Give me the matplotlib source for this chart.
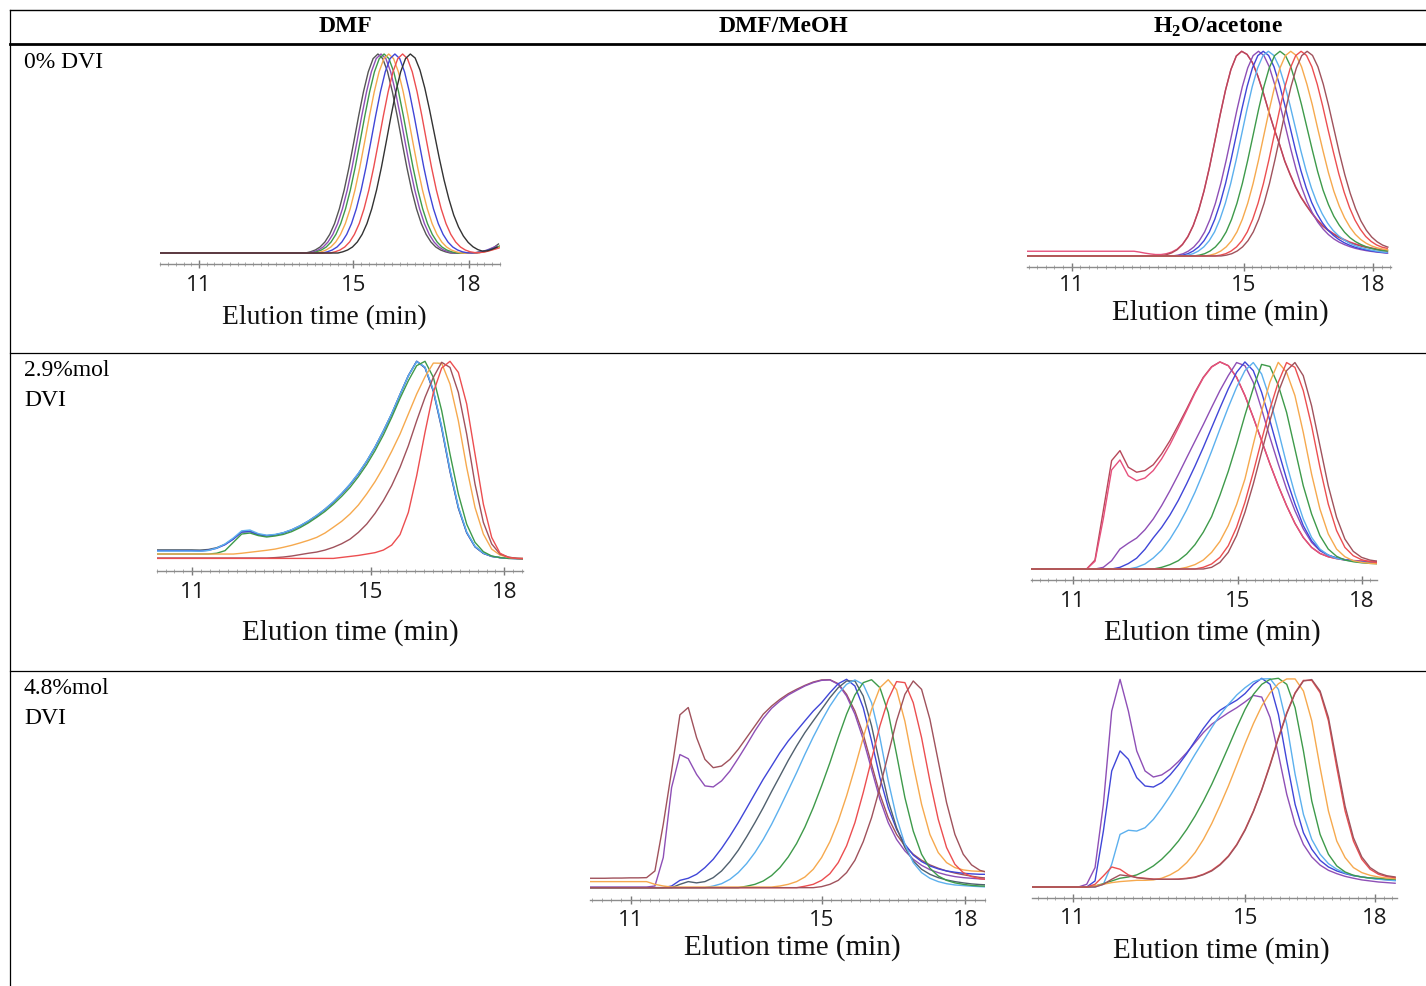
import numpy as np
import matplotlib
matplotlib.use("Agg")
import matplotlib.pyplot as plt
from matplotlib.lines import Line2D
from matplotlib.ticker import MultipleLocator

plt.rcParams["mathtext.fontset"] = "custom"
plt.rcParams["mathtext.rm"] = "Liberation Serif:bold"
plt.rcParams["mathtext.bf"] = "Liberation Serif:bold"

W, H = 1426, 987
SERIF = "Liberation Serif"
SANS = "Open Sans"

solvents = ["DMF", "DMF/MeOH", r"H$_2$O/acetone"]
row_labels = [["0% DVI"], ["2.9%mol", "DVI"], ["4.8%mol", "DVI"]]
tick_vals = [11, 15, 18]
xlabel = "Elution time (min)"

# colours
GRAY, BLACK, SLATE = "#555555", "#333333", "#50606e"
PURPLE, BLUE, LBLUE = "#8e4fb6", "#4046d8", "#5cb0ee"
GREEN, ORANGE, RED = "#3e9a4a", "#f6a94e", "#ec4e50"
BROWN, PINK, CRIM = "#a0525c", "#e6507c", "#b8475a"

# ---------------- row 1, DMF (0 % DVI): each trace = start time + values every 0.125 min
p1_dt = 0.125
p1_gray = [0.005, 0.011, 0.020, 0.035, 0.060, 0.098, 0.152, 0.226, 0.320, 0.433, 0.560, 0.690, 0.811, 0.911, 0.977, 1.0,
           0.977, 0.911, 0.811, 0.690, 0.560, 0.433, 0.320, 0.226, 0.152, 0.098, 0.060, 0.035, 0.020, 0.011, 0.005,
           0.004, 0.004, 0.004, 0.004, 0.005, 0.007, 0.012, 0.020, 0.032, 0.050]
p1_purple = [0.005, 0.011, 0.020, 0.035, 0.060, 0.098, 0.152, 0.226, 0.320, 0.433, 0.560, 0.690, 0.811, 0.911, 0.977, 1.0,
             0.977, 0.911, 0.811, 0.690, 0.560, 0.433, 0.320, 0.226, 0.152, 0.098, 0.060, 0.035, 0.020, 0.011, 0.005,
             0.004, 0.004, 0.004, 0.005, 0.008, 0.013, 0.020, 0.030, 0.040]
p1_green = [0.005, 0.011, 0.020, 0.035, 0.060, 0.098, 0.152, 0.226, 0.320, 0.433, 0.560, 0.690, 0.811, 0.911, 0.977, 1.0,
            0.977, 0.911, 0.811, 0.690, 0.560, 0.433, 0.320, 0.226, 0.152, 0.098, 0.060, 0.035, 0.020, 0.011, 0.005,
            0.004, 0.004, 0.004, 0.006, 0.010, 0.015, 0.022, 0.030, 0.040]
p1_orange = [0.005, 0.011, 0.020, 0.035, 0.060, 0.098, 0.152, 0.226, 0.320, 0.433, 0.560, 0.690, 0.811, 0.911, 0.977, 1.0,
             0.977, 0.911, 0.811, 0.690, 0.560, 0.433, 0.320, 0.226, 0.152, 0.098, 0.060, 0.035, 0.020, 0.011, 0.005,
             0.004, 0.004, 0.005, 0.008, 0.012, 0.018, 0.026, 0.034]
p1_blue = [0.005, 0.011, 0.020, 0.035, 0.060, 0.098, 0.152, 0.226, 0.320, 0.433, 0.560, 0.690, 0.811, 0.911, 0.977, 1.0,
           0.977, 0.911, 0.811, 0.690, 0.560, 0.433, 0.320, 0.226, 0.152, 0.098, 0.060, 0.035, 0.020, 0.011, 0.006,
           0.005, 0.007, 0.011, 0.017, 0.024, 0.032]
p1_red = [0.005, 0.011, 0.020, 0.035, 0.060, 0.098, 0.152, 0.226, 0.320, 0.433, 0.560, 0.690, 0.811, 0.911, 0.977, 1.0,
          0.977, 0.911, 0.811, 0.690, 0.560, 0.433, 0.320, 0.226, 0.152, 0.098, 0.060, 0.035, 0.020, 0.011, 0.007,
          0.007, 0.010, 0.016, 0.023, 0.030]
p1_black = [0.005, 0.011, 0.020, 0.035, 0.060, 0.098, 0.152, 0.226, 0.320, 0.433, 0.560, 0.690, 0.811, 0.911, 0.977, 1.0,
            0.98, 0.92, 0.83, 0.72, 0.60, 0.48, 0.37, 0.275, 0.195, 0.135, 0.09, 0.058, 0.036, 0.022, 0.014,
            0.016, 0.024, 0.034]
p1_traces = [(GRAY, 13.765, p1_gray), (PURPLE, 13.845, p1_purple), (GREEN, 13.925, p1_green),
             (ORANGE, 14.045, p1_orange), (BLUE, 14.205, p1_blue), (RED, 14.405, p1_red),
             (BLACK, 14.605, p1_black)]

# ---------------- row 1, H2O/acetone (0 % DVI)
p2_dt = 0.125
p2_pink = [0.028, 0.024, 0.019, 0.015, 0.012,
           0.012, 0.016, 0.024, 0.038, 0.062, 0.1, 0.154, 0.228, 0.322, 0.435, 0.562, 0.692, 0.812, 0.912, 0.977, 1.0,
           0.985, 0.945, 0.88, 0.80, 0.71, 0.625, 0.55, 0.468, 0.403, 0.343, 0.293, 0.253, 0.216, 0.183, 0.155,
           0.133, 0.115, 0.099, 0.086, 0.074, 0.065, 0.057, 0.05, 0.045, 0.04, 0.036, 0.033]
p2_crim = [0.005, 0.011, 0.020, 0.035, 0.060, 0.098, 0.152, 0.226, 0.320, 0.433, 0.560, 0.690, 0.811, 0.911, 0.977, 1.0,
           0.985, 0.945, 0.88, 0.80, 0.71, 0.625, 0.55, 0.465, 0.40, 0.34, 0.29, 0.25, 0.213, 0.18, 0.152, 0.13,
           0.112, 0.096, 0.083, 0.071, 0.062, 0.054, 0.047, 0.042, 0.037, 0.032, 0.028]
p2_purple = [0.005, 0.009, 0.016, 0.029, 0.049, 0.079, 0.122, 0.183, 0.261, 0.357, 0.470, 0.592, 0.715, 0.828, 0.919, 0.979, 1.0,
             0.98, 0.925, 0.84, 0.74, 0.635, 0.525, 0.425, 0.34, 0.27, 0.215, 0.17, 0.136, 0.109, 0.088, 0.072, 0.06,
             0.05, 0.042, 0.036, 0.031, 0.027, 0.024, 0.021, 0.019]
p2_blue = [0.005, 0.009, 0.016, 0.029, 0.049, 0.079, 0.122, 0.183, 0.261, 0.357, 0.470, 0.592, 0.715, 0.828, 0.919, 0.979, 1.0,
           0.98, 0.925, 0.84, 0.74, 0.63, 0.52, 0.42, 0.335, 0.265, 0.21, 0.166, 0.132, 0.106, 0.086, 0.07, 0.058,
           0.048, 0.041, 0.035, 0.03, 0.026, 0.023, 0.02]
p2_lblue = [0.005, 0.009, 0.016, 0.029, 0.049, 0.079, 0.122, 0.183, 0.261, 0.357, 0.470, 0.592, 0.715, 0.828, 0.919, 0.979, 1.0,
            0.98, 0.925, 0.84, 0.74, 0.63, 0.52, 0.42, 0.335, 0.265, 0.21, 0.165, 0.13, 0.104, 0.084, 0.068, 0.056,
            0.047, 0.04, 0.034, 0.029, 0.025, 0.022]
p2_green = [0.005, 0.009, 0.016, 0.029, 0.049, 0.079, 0.122, 0.183, 0.261, 0.357, 0.470, 0.592, 0.715, 0.828, 0.919, 0.979, 1.0,
            0.98, 0.925, 0.84, 0.74, 0.63, 0.52, 0.415, 0.325, 0.255, 0.198, 0.155, 0.12, 0.094, 0.075, 0.061, 0.05,
            0.042, 0.036, 0.032, 0.029]
p2_orange = [0.005, 0.009, 0.016, 0.029, 0.049, 0.079, 0.122, 0.183, 0.261, 0.357, 0.470, 0.592, 0.715, 0.828, 0.919, 0.979, 1.0,
             0.98, 0.925, 0.84, 0.74, 0.625, 0.515, 0.41, 0.32, 0.248, 0.19, 0.145, 0.11, 0.085, 0.067, 0.054, 0.045,
             0.039, 0.035]
p2_red = [0.005, 0.009, 0.016, 0.029, 0.049, 0.079, 0.122, 0.183, 0.261, 0.357, 0.470, 0.592, 0.715, 0.828, 0.919, 0.979, 1.0,
          0.98, 0.925, 0.84, 0.735, 0.62, 0.51, 0.405, 0.315, 0.24, 0.18, 0.135, 0.1, 0.076, 0.059, 0.048, 0.042]
p2_brown = [0.005, 0.009, 0.016, 0.029, 0.049, 0.079, 0.122, 0.183, 0.261, 0.357, 0.470, 0.592, 0.715, 0.828, 0.919, 0.979, 1.0,
            0.98, 0.925, 0.84, 0.735, 0.62, 0.505, 0.4, 0.31, 0.235, 0.175, 0.13, 0.097, 0.074, 0.058, 0.048]
p2_traces = [(PINK, 12.45, p2_pink), (CRIM, 13.075, p2_crim), (PURPLE, 13.34, p2_purple),
             (BLUE, 13.45, p2_blue), (LBLUE, 13.57, p2_lblue), (GREEN, 13.84, p2_green),
             (ORANGE, 14.09, p2_orange), (RED, 14.33, p2_red), (BROWN, 14.47, p2_brown)]

# ---------------- row 2, DMF (2.9 % DVI): common grid from 10.80 min, step 0.1869 min
p3_t0, p3_dt = 10.80, 0.1869
p3_gray = [0.046, 0.046, 0.045, 0.048, 0.057, 0.074, 0.102, 0.136, 0.14, 0.124, 0.118, 0.122, 0.132, 0.147,
           0.167, 0.191, 0.219, 0.251, 0.287, 0.329, 0.376, 0.43, 0.493, 0.564, 0.645, 0.732, 0.83, 0.925,
           0.997, 0.964, 0.845, 0.658, 0.44, 0.256, 0.132, 0.061, 0.028, 0.013, 0.007, 0.004, 0.003, 0.002]
p3_blue = [0.042, 0.042, 0.04, 0.044, 0.054, 0.072, 0.1, 0.136, 0.138, 0.121, 0.116, 0.121, 0.131, 0.146,
           0.166, 0.19, 0.218, 0.25, 0.286, 0.328, 0.375, 0.429, 0.492, 0.563, 0.644, 0.731, 0.829, 0.924,
           0.997, 0.966, 0.849, 0.664, 0.445, 0.26, 0.134, 0.062, 0.029, 0.013, 0.007, 0.003, 0.002, 0.0]
p3_lblue = [0.04, 0.04, 0.039, 0.043, 0.055, 0.076, 0.106, 0.142, 0.146, 0.128, 0.12, 0.124, 0.133, 0.148,
            0.168, 0.192, 0.22, 0.252, 0.289, 0.331, 0.378, 0.432, 0.494, 0.565, 0.646, 0.733, 0.83, 0.924,
            0.995, 0.968, 0.852, 0.668, 0.45, 0.264, 0.137, 0.064, 0.03, 0.014, 0.007, 0.004, 0.002, 0.001]
p3_green = [0.025, 0.025, 0.025, 0.025, 0.029, 0.042, 0.084, 0.126, 0.131, 0.118, 0.111, 0.116, 0.124, 0.138,
            0.158, 0.182, 0.21, 0.24, 0.276, 0.316, 0.361, 0.415, 0.476, 0.546, 0.625, 0.714, 0.81, 0.899,
            0.975, 0.997, 0.916, 0.748, 0.529, 0.328, 0.176, 0.084, 0.037, 0.015, 0.007, 0.003, 0.002, 0.0]
p3_orange = [0.025, 0.025, 0.025, 0.025, 0.025, 0.025, 0.025, 0.029, 0.034, 0.039, 0.044, 0.05, 0.059, 0.069,
             0.081, 0.094, 0.109, 0.131, 0.16, 0.19, 0.227, 0.272, 0.328, 0.39, 0.462, 0.543, 0.63, 0.731,
             0.832, 0.919, 0.988, 0.987, 0.882, 0.697, 0.462, 0.26, 0.126, 0.05, 0.02, 0.008, 0.003, 0.002]
p3_brown = [0.005, 0.005, 0.005, 0.005, 0.005, 0.005, 0.005, 0.005, 0.005, 0.005, 0.005, 0.007, 0.01, 0.015,
            0.022, 0.029, 0.035, 0.045, 0.059, 0.077, 0.1, 0.134, 0.176, 0.23, 0.294, 0.37, 0.462, 0.571,
            0.697, 0.815, 0.916, 0.992, 0.966, 0.84, 0.63, 0.378, 0.185, 0.076, 0.025, 0.01, 0.003, 0.002]
p3_red = [0.003, 0.003, 0.003, 0.003, 0.003, 0.003, 0.003, 0.003, 0.003, 0.003, 0.003, 0.003, 0.003, 0.003,
          0.003, 0.003, 0.003, 0.003, 0.003, 0.008, 0.013, 0.018, 0.025, 0.032, 0.045, 0.07, 0.123, 0.235,
          0.42, 0.639, 0.84, 0.963, 0.997, 0.941, 0.782, 0.529, 0.277, 0.109, 0.029, 0.008, 0.003, 0.002]
p3_traces = [(SLATE, p3_t0, p3_gray), (BLUE, p3_t0, p3_blue), (LBLUE, p3_t0, p3_lblue),
             (GREEN, p3_t0, p3_green), (ORANGE, p3_t0, p3_orange), (BROWN, p3_t0, p3_brown),
             (RED, p3_t0, p3_red)]

# ---------------- row 2, H2O/acetone (2.9 % DVI): grid from 10.523 min, step 0.2019 min
p4_t0, p4_dt = 10.523, 0.2019
p4_crim = [0, 0, 0, 0, 0, 0.043, 0.281, 0.522, 0.57, 0.49, 0.466, 0.474, 0.502, 0.554, 0.618, 0.693, 0.77,
           0.851, 0.923, 0.974, 0.997, 0.979, 0.923, 0.835, 0.73, 0.618, 0.506, 0.401, 0.305, 0.22, 0.152,
           0.104, 0.075, 0.059, 0.05, 0.043, 0.04, 0.037, 0.035, 0.034]
p4_pink = [0, 0, 0, 0, 0, 0.037, 0.241, 0.477, 0.525, 0.449, 0.425, 0.438, 0.474, 0.53, 0.599, 0.679, 0.762,
           0.846, 0.92, 0.972, 0.997, 0.979, 0.923, 0.835, 0.73, 0.618, 0.506, 0.401, 0.305, 0.22, 0.152,
           0.104, 0.075, 0.059, 0.05, 0.044, 0.041, 0.039, 0.037, 0.036]
p4_purple = [0, 0, 0, 0, 0, 0, 0.008, 0.04, 0.096, 0.124, 0.149, 0.189, 0.241, 0.305, 0.377, 0.454, 0.535,
             0.615, 0.695, 0.778, 0.859, 0.931, 0.994, 0.979, 0.899, 0.77, 0.634, 0.506, 0.385, 0.281, 0.193,
             0.128, 0.088, 0.066, 0.053, 0.045, 0.04, 0.035, 0.032, 0.03]
p4_blue = [0, 0, 0, 0, 0, 0, 0, 0, 0.008, 0.026, 0.052, 0.095, 0.15, 0.2, 0.26, 0.33, 0.41, 0.495, 0.585, 0.68,
           0.775, 0.867, 0.947, 0.997, 0.955, 0.851, 0.714, 0.57, 0.433, 0.313, 0.209, 0.136, 0.091, 0.067,
           0.053, 0.045, 0.039, 0.034, 0.03, 0.029]
p4_lblue = [0, 0, 0, 0, 0, 0, 0, 0, 0, 0, 0.008, 0.024, 0.053, 0.091, 0.144, 0.209, 0.284, 0.369, 0.465, 0.567,
            0.674, 0.778, 0.875, 0.955, 0.994, 0.939, 0.819, 0.666, 0.506, 0.361, 0.241, 0.152, 0.096, 0.067,
            0.051, 0.043, 0.037, 0.032, 0.029, 0.027]
p4_green = [0, 0, 0, 0, 0, 0, 0, 0, 0, 0, 0, 0, 0, 0.008, 0.021, 0.04, 0.072, 0.117, 0.177, 0.252, 0.355,
            0.47, 0.6, 0.74, 0.87, 0.985, 0.975, 0.885, 0.754, 0.578, 0.401, 0.265, 0.161, 0.096, 0.061,
            0.043, 0.035, 0.03, 0.027, 0.025]
p4_orange = [0, 0, 0, 0, 0, 0, 0, 0, 0, 0, 0, 0, 0, 0, 0, 0, 0.008, 0.021, 0.043, 0.08, 0.133, 0.209, 0.31,
             0.433, 0.6, 0.76, 0.9, 0.995, 0.947, 0.835, 0.658, 0.457, 0.289, 0.169, 0.096, 0.059, 0.04,
             0.032, 0.027, 0.025]
p4_red = [0, 0, 0, 0, 0, 0, 0, 0, 0, 0, 0, 0, 0, 0, 0, 0, 0, 0, 0.008, 0.024, 0.056, 0.112, 0.201, 0.321,
          0.465, 0.621, 0.77, 0.899, 0.994, 0.971, 0.859, 0.69, 0.49, 0.313, 0.185, 0.104, 0.064, 0.045,
          0.035, 0.03]
p4_brown = [0, 0, 0, 0, 0, 0, 0, 0, 0, 0, 0, 0, 0, 0, 0, 0, 0, 0, 0, 0.008, 0.032, 0.08, 0.161, 0.273,
            0.409, 0.562, 0.714, 0.851, 0.955, 0.994, 0.931, 0.786, 0.594, 0.401, 0.249, 0.144, 0.085,
            0.056, 0.043, 0.037]
p4_traces = [(CRIM, p4_t0, p4_crim), (PINK, p4_t0, p4_pink), (PURPLE, p4_t0, p4_purple),
             (BLUE, p4_t0, p4_blue), (LBLUE, p4_t0, p4_lblue), (GREEN, p4_t0, p4_green),
             (ORANGE, p4_t0, p4_orange), (RED, p4_t0, p4_red), (BROWN, p4_t0, p4_brown)]

# ---------------- row 3, DMF/MeOH (4.8 % DVI): grid from 10.29 min, step 0.1742 min
p5_t0, p5_dt = 10.29, 0.1742
p5_brown_w = [0.048, 0.048, 0.049, 0.049, 0.05, 0.05, 0.051, 0.083, 0.306, 0.561, 0.83, 0.865, 0.721, 0.617,
              0.577, 0.585, 0.617, 0.665, 0.721, 0.777, 0.833, 0.872, 0.904, 0.931, 0.952, 0.971, 0.987,
              0.997, 0.998, 0.979, 0.928, 0.848, 0.737, 0.593, 0.45, 0.338, 0.258, 0.203, 0.163, 0.134,
              0.112, 0.096, 0.083, 0.073, 0.065, 0.058, 0.052, 0.048]
p5_purple_w = [0.006, 0.006, 0.006, 0.006, 0.006, 0.006, 0.006, 0.011, 0.147, 0.482, 0.64, 0.62, 0.545, 0.49,
               0.485, 0.514, 0.561, 0.622, 0.686, 0.753, 0.813, 0.861, 0.896, 0.925, 0.947, 0.968, 0.984,
               0.995, 0.997, 0.976, 0.92, 0.833, 0.713, 0.569, 0.426, 0.314, 0.234, 0.179, 0.139, 0.11,
               0.089, 0.075, 0.064, 0.056, 0.051, 0.048, 0.045, 0.043]
p5_blue = [0.003, 0.003, 0.003, 0.003, 0.003, 0.003, 0.003, 0.003, 0.003, 0.011, 0.038, 0.048, 0.067, 0.099,
           0.139, 0.191, 0.25, 0.314, 0.383, 0.453, 0.522, 0.585, 0.649, 0.705, 0.753, 0.801, 0.848, 0.888,
           0.936, 0.979, 1.0, 0.968, 0.864, 0.705, 0.53, 0.386, 0.282, 0.211, 0.159, 0.128, 0.107, 0.093,
           0.083, 0.077, 0.072, 0.069, 0.067, 0.067]
p5_slate = [0.003, 0.003, 0.003, 0.003, 0.003, 0.003, 0.003, 0.003, 0.003, 0.003, 0.019, 0.032, 0.026, 0.032,
            0.051, 0.083, 0.128, 0.182, 0.246, 0.314, 0.386, 0.463, 0.537, 0.612, 0.681, 0.745, 0.801, 0.856,
            0.912, 0.96, 0.992, 0.992, 0.92, 0.777, 0.593, 0.418, 0.29, 0.195, 0.131, 0.091, 0.067, 0.051,
            0.04, 0.032, 0.026, 0.021, 0.018, 0.016]
p5_lblue = [0.003, 0.003, 0.003, 0.003, 0.003, 0.003, 0.003, 0.003, 0.003, 0.003, 0.003, 0.003, 0.003, 0.003,
            0.011, 0.022, 0.043, 0.075, 0.118, 0.171, 0.234, 0.306, 0.386, 0.469, 0.553, 0.641, 0.724, 0.801,
            0.872, 0.931, 0.976, 0.997, 0.976, 0.888, 0.721, 0.514, 0.338, 0.211, 0.123, 0.075, 0.048, 0.032,
            0.022, 0.016, 0.013, 0.01, 0.008, 0.006]
p5_green = [0.003, 0.003, 0.003, 0.003, 0.003, 0.003, 0.003, 0.003, 0.003, 0.003, 0.003, 0.003, 0.003, 0.003,
            0.003, 0.003, 0.003, 0.003, 0.01, 0.019, 0.035, 0.061, 0.099, 0.15, 0.214, 0.293, 0.386, 0.49,
            0.601, 0.721, 0.833, 0.925, 0.984, 0.998, 0.96, 0.841, 0.641, 0.434, 0.274, 0.163, 0.096, 0.059,
            0.038, 0.026, 0.019, 0.014, 0.011, 0.01]
p5_orange = [0.032, 0.032, 0.032, 0.032, 0.032, 0.032, 0.032, 0.019, 0.011, 0.006, 0.006, 0.006, 0.006, 0.006,
             0.006, 0.006, 0.006, 0.006, 0.006, 0.006, 0.006, 0.006, 0.011, 0.019, 0.032, 0.054, 0.091, 0.147,
             0.223, 0.322, 0.442, 0.577, 0.721, 0.856, 0.96, 0.998, 0.95, 0.799, 0.593, 0.402, 0.258, 0.171,
             0.123, 0.099, 0.088, 0.083, 0.081, 0.08]
p5_red = [0.003, 0.003, 0.003, 0.003, 0.003, 0.003, 0.003, 0.003, 0.003, 0.003, 0.003, 0.003, 0.003, 0.003,
          0.003, 0.003, 0.003, 0.003, 0.003, 0.003, 0.003, 0.003, 0.003, 0.003, 0.003, 0.01, 0.019, 0.038,
          0.07, 0.123, 0.203, 0.314, 0.458, 0.617, 0.777, 0.904, 0.989, 0.984, 0.888, 0.721, 0.514, 0.33,
          0.195, 0.115, 0.075, 0.056, 0.046, 0.041]
p5_brown = [0.003, 0.003, 0.003, 0.003, 0.003, 0.003, 0.003, 0.003, 0.003, 0.003, 0.003, 0.003, 0.003, 0.003,
            0.003, 0.003, 0.003, 0.003, 0.003, 0.003, 0.003, 0.003, 0.003, 0.003, 0.003, 0.003, 0.003, 0.008,
            0.019, 0.038, 0.075, 0.134, 0.223, 0.338, 0.482, 0.641, 0.801, 0.928, 0.992, 0.952, 0.809, 0.609,
            0.41, 0.258, 0.163, 0.112, 0.086, 0.075]
p5_traces = [(BROWN, p5_t0, p5_brown_w), (PURPLE, p5_t0, p5_purple_w), (BLUE, p5_t0, p5_blue),
             (SLATE, p5_t0, p5_slate), (LBLUE, p5_t0, p5_lblue), (GREEN, p5_t0, p5_green),
             (ORANGE, p5_t0, p5_orange), (RED, p5_t0, p5_red), (BROWN, p5_t0, p5_brown)]

# ---------------- row 3, H2O/acetone (4.8 % DVI): grid from 10.171 min, step 0.1929 min
p6_t0, p6_dt = 10.171, 0.1929
p6_purple = [0, 0, 0, 0, 0, 0, 0.013, 0.093, 0.396, 0.843, 0.995, 0.843, 0.652, 0.556, 0.527, 0.537, 0.564,
             0.601, 0.644, 0.692, 0.74, 0.78, 0.808, 0.835, 0.859, 0.887, 0.918, 0.91, 0.812, 0.636, 0.444,
             0.3, 0.204, 0.144, 0.105, 0.08, 0.064, 0.051, 0.042, 0.034, 0.029, 0.024, 0.021, 0.018]
p6_blue = [0, 0, 0, 0, 0, 0, 0, 0.029, 0.268, 0.556, 0.652, 0.612, 0.524, 0.484, 0.479, 0.5, 0.537, 0.585,
           0.639, 0.7, 0.76, 0.812, 0.847, 0.872, 0.895, 0.927, 0.971, 1.0, 0.971, 0.827, 0.604, 0.396, 0.26,
           0.181, 0.128, 0.096, 0.077, 0.064, 0.054, 0.048, 0.043, 0.038, 0.035, 0.032]
p6_lblue = [0, 0, 0, 0, 0, 0, 0, 0, 0.013, 0.109, 0.252, 0.272, 0.268, 0.284, 0.324, 0.377, 0.436, 0.5, 0.569,
            0.636, 0.7, 0.764, 0.824, 0.875, 0.92, 0.955, 0.984, 0.997, 0.998, 0.947, 0.78, 0.54, 0.348,
            0.228, 0.157, 0.112, 0.085, 0.067, 0.056, 0.048, 0.042, 0.037, 0.034, 0.03]
p6_green = [0, 0, 0, 0, 0, 0, 0, 0.005, 0.016, 0.029, 0.042, 0.048, 0.058, 0.077, 0.101, 0.133, 0.173, 0.22,
            0.276, 0.34, 0.412, 0.492, 0.58, 0.671, 0.764, 0.851, 0.923, 0.971, 0.995, 1.0, 0.971, 0.859,
            0.652, 0.412, 0.252, 0.157, 0.101, 0.072, 0.056, 0.048, 0.043, 0.042, 0.038, 0.037]
p6_orange = [0, 0, 0, 0, 0, 0, 0, 0.005, 0.013, 0.021, 0.026, 0.029, 0.032, 0.032, 0.034, 0.042, 0.058,
             0.081, 0.117, 0.165, 0.228, 0.304, 0.391, 0.484, 0.585, 0.687, 0.783, 0.867, 0.931, 0.974,
             0.997, 0.997, 0.939, 0.796, 0.572, 0.364, 0.22, 0.141, 0.093, 0.069, 0.056, 0.048, 0.043, 0.04]
p6_red = [0, 0, 0, 0, 0, 0, 0, 0.013, 0.053, 0.096, 0.085, 0.058, 0.045, 0.042, 0.038, 0.037, 0.037, 0.038,
          0.042, 0.048, 0.061, 0.08, 0.109, 0.149, 0.204, 0.276, 0.364, 0.468, 0.588, 0.716, 0.835, 0.931,
          0.99, 0.99, 0.931, 0.796, 0.572, 0.364, 0.22, 0.133, 0.085, 0.061, 0.05, 0.045]
p6_brown = [0, 0, 0, 0, 0, 0, 0, 0, 0.013, 0.037, 0.058, 0.053, 0.045, 0.04, 0.037, 0.037, 0.037, 0.037,
            0.04, 0.046, 0.059, 0.077, 0.106, 0.146, 0.201, 0.272, 0.361, 0.465, 0.583, 0.711, 0.831, 0.928,
            0.987, 0.994, 0.939, 0.812, 0.596, 0.387, 0.236, 0.144, 0.093, 0.067, 0.054, 0.048]
p6_traces = [(PURPLE, p6_t0, p6_purple), (BLUE, p6_t0, p6_blue), (LBLUE, p6_t0, p6_lblue),
             (GREEN, p6_t0, p6_green), (ORANGE, p6_t0, p6_orange), (RED, p6_t0, p6_red),
             (BROWN, p6_t0, p6_brown)]

# panel layout in pixels: axes x-span, x limits, axis line / baseline / peak-top rows
panels = [
    dict(traces=p1_traces, dt=p1_dt, x0=160.4, x1=499.8, xlim=(10.0, 18.8),
         axis_y=265.0, base_y=255.0, top_y=55.0, lab=(324, 318), lab_size=19.8, pad=4.5),
    dict(traces=p2_traces, dt=p2_dt, x0=1026.8, x1=1391.1, xlim=(9.96, 18.42),
         axis_y=267.7, base_y=258.0, top_y=52.3, lab=(1220, 313), lab_size=21, pad=2.0),
    dict(traces=p3_traces, dt=p3_dt, x0=156.6, x1=523.1, xlim=(10.2, 18.42),
         axis_y=571.7, base_y=560.0, top_y=361.7, lab=(350, 633), lab_size=21, pad=4.5),
    dict(traces=p4_traces, dt=p4_dt, x0=1030.9, x1=1376.7, xlim=(9.98, 18.36),
         axis_y=581.0, base_y=570.0, top_y=362.3, lab=(1212, 633), lab_size=21, pad=4.5),
    dict(traces=p5_traces, dt=p5_dt, x0=589.9, x1=985.0, xlim=(10.15, 18.41),
         axis_y=900.7, base_y=889.3, top_y=680.3, lab=(792, 948), lab_size=21, pad=4.0),
    dict(traces=p6_traces, dt=p6_dt, x0=1031.9, x1=1396.6, xlim=(10.06, 18.50),
         axis_y=898.7, base_y=888.0, top_y=679.3, lab=(1221, 951), lab_size=21, pad=4.0),
]

fig = plt.figure(figsize=(W / 100, H / 100), dpi=100)


def fx(px):
    return px / W


def fy(py):
    return 1 - py / H


for p in panels:
    scale = p["base_y"] - p["top_y"]
    ylo = -(p["axis_y"] - p["base_y"]) / scale
    yhi = 1.04
    top_px = p["top_y"] - 0.04 * scale
    ax = fig.add_axes([fx(p["x0"]), fy(p["axis_y"]), (p["x1"] - p["x0"]) / W, (p["axis_y"] - top_px) / H])
    ax.set_xlim(*p["xlim"])
    ax.set_ylim(ylo, yhi)
    ax.patch.set_visible(False)
    for s in ("top", "left", "right"):
        ax.spines[s].set_visible(False)
    ax.spines["bottom"].set_color("#8c8c8c")
    ax.spines["bottom"].set_linewidth(1.0)
    ax.set_yticks([])
    ax.set_xticks(tick_vals)
    ax.set_xticklabels([str(v) for v in tick_vals], fontfamily=SANS, fontsize=16, color="#1a1a1a")
    ax.xaxis.set_minor_locator(MultipleLocator(0.2))
    ax.tick_params(axis="x", which="major", direction="inout", length=6, width=1.0,
                   color="#7a7a7a", pad=p["pad"])
    ax.tick_params(axis="x", which="minor", direction="inout", length=2.5, width=0.6, color="#a0a0a0")
    for color, start, vals in p["traces"]:
        t = np.concatenate([[p["xlim"][0]], start + p["dt"] * np.arange(len(vals))])
        y = np.concatenate([[vals[0]], vals])
        ax.plot(t, y, color=color, lw=1.0, solid_joinstyle="round")
    fig.text(fx(p["lab"][0]), fy(p["lab"][1]), xlabel, ha="center", va="center",
             fontfamily=SERIF, fontsize=p["lab_size"], color="#111111")

# table rules
def hline(y, lw):
    fig.add_artist(Line2D([fx(10), 1.0], [fy(y), fy(y)], transform=fig.transFigure, color="black", lw=lw))


hline(11, 1.0)
hline(44.5, 2.0)
hline(354, 0.9)
hline(672, 0.9)
fig.add_artist(Line2D([fx(10), fx(10)], [fy(11), 0.0], transform=fig.transFigure, color="black", lw=0.9))

# header
for name, xc in zip(solvents, [345, 783, 1218]):
    fig.text(fx(xc), fy(27), name, ha="center", va="center", fontfamily=SERIF,
             fontweight="bold", fontsize=17)

# row labels
for lines, y0 in zip(row_labels, [62, 370, 688]):
    for i, s in enumerate(lines):
        fig.text(fx(24), fy(y0 + 31 * i), s, ha="left", va="center", fontfamily=SERIF, fontsize=17)

fig.savefig("out.png", dpi=100)
